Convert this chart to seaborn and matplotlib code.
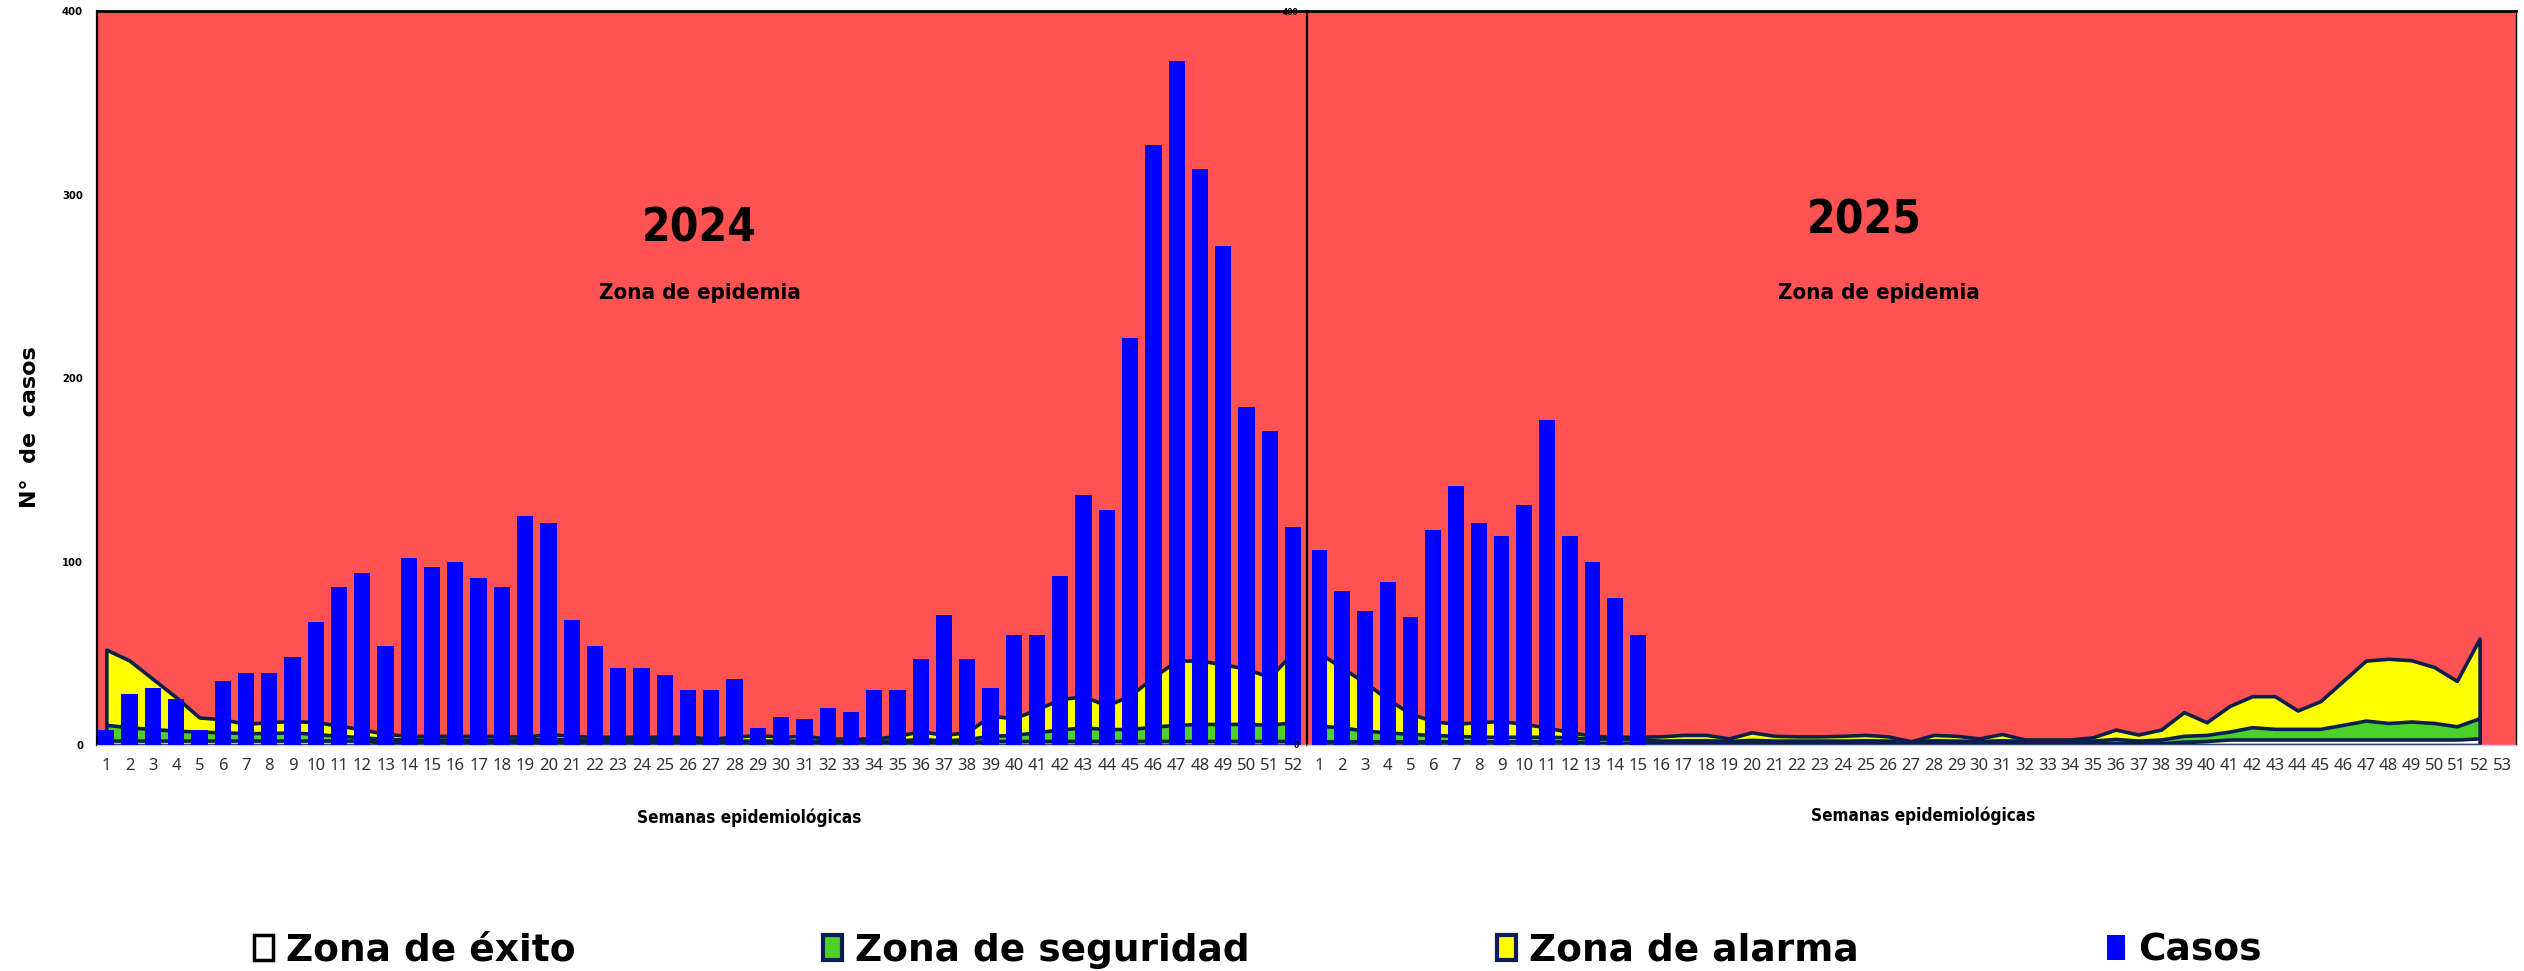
import os
import numpy as np
import pandas as pd
import seaborn as sns
import matplotlib
matplotlib.use("Agg")
import matplotlib.pyplot as plt
from matplotlib import font_manager as fm
from matplotlib.patches import Patch

# semanas epidemiologicas
semanas = list(range(1, 53))
semanas_2025_casos = list(range(1, 16))

casos_2024 = [8, 28, 31, 25, 8, 35, 39, 39, 48, 67, 86, 94, 54, 102, 97, 100, 91, 86, 125, 121,
              68, 54, 42, 42, 38, 30, 30, 36, 9, 15, 14, 20, 18, 30, 30, 47, 71, 47, 31, 60,
              60, 92, 136, 128, 222, 327, 373, 314, 272, 184, 171, 119]
casos_2025 = [106, 84, 73, 89, 70, 117, 141, 121, 114, 131, 177, 114, 100, 80, 60]

# limites superiores de cada zona (canal endemico)
alarma_2024 = [52, 46, 36, 26, 15, 14, 11.5, 12.5, 13, 12.5, 10.5, 8.5, 6, 5, 5, 5, 5, 5, 4.5, 6,
               5, 4.5, 4.5, 4.5, 4.5, 4.5, 3.5, 4.5, 5.5, 4.5, 5, 3.5, 3.5, 3.5, 5, 7.5, 5.5, 7, 16, 14.5,
               19.5, 25, 26.5, 21.5, 27, 37, 46, 46, 44, 41.5, 37, 50.5]
seguridad_2024 = [11, 9.6, 8.7, 7.8, 7.3, 6.9, 6.5, 6.5, 6.9, 6, 5, 4.2, 3.3, 3, 3, 3, 3, 3, 3, 3.5,
                  3, 3, 3, 3, 3, 3, 2.4, 2.4, 2.4, 2.4, 2.4, 2.4, 2.4, 2.4, 2.4, 3.3, 2.5, 3.3, 5, 5.5,
                  7, 8.5, 9.6, 8.7, 8.7, 10, 11, 11.5, 11.5, 11.5, 11, 12.5]
exito_2024 = [2.4] * 12 + [1.5] * 26 + [2.2] * 14

alarma_2025 = [50, 42, 34, 25, 17, 13, 11.5, 12.5, 13, 11.5, 9.5, 7, 5, 4.5, 4.5, 4.7, 5.5, 5.5, 3.6, 6.9,
               5, 4.7, 4.7, 5, 5.5, 4.7, 2, 5.5, 5, 3.6, 6, 3, 3, 3, 4.2, 8.4, 5.7, 8.4, 17.9, 12.4,
               21.2, 26.6, 26.6, 18.8, 23.9, 34.9, 46, 47, 46.2, 42.5, 34.9, 58]
seguridad_2025 = [10.5, 9.6, 7.8, 6.9, 6, 5.5, 5, 4.5, 4.5, 4.5, 4.5, 4.2, 3.3, 3.3, 3, 2.4, 2.6, 2.6, 2.2, 2.8,
                  2.4, 2.4, 2.4, 2.4, 2.6, 2.4, 2, 2.6, 2.4, 2.2, 2.6, 2.2, 2.2, 2.2, 2.4, 3.3, 2.4, 3, 5, 5.5,
                  7.3, 9.7, 8.8, 8.8, 8.8, 11, 13.3, 12, 12.8, 12, 10.2, 14.6]
exito_2025 = [2] * 12 + [1] * 26 + [1.8, 2.2] + [3] * 11 + [3.6]

ticks_2024 = list(range(1, 53))
ticks_2025 = list(range(1, 54))

ROJO = "#ff5252"
AZUL = "#0000ff"
AMARILLO = "#ffff00"
VERDE = "#4cd12a"
NAVY = "#0b1f4f"
NARROW = ["Liberation Sans Narrow", "DejaVu Sans Condensed", "Noto Sans Condensed", "Noto Sans", "DejaVu Sans"]


def fuente_estrecha(tamano, nombres):
    # busca un archivo de fuente condensada/negrita; si no hay, usa la normal
    archivos = {os.path.basename(f.fname).lower(): f.fname for f in fm.fontManager.ttflist}
    for n in nombres:
        if n in archivos:
            return fm.FontProperties(fname=archivos[n], size=tamano)
    return fm.FontProperties(family="DejaVu Sans", weight="bold", size=tamano)


NEGRITA = ["liberationsansnarrow-bold.ttf", "dejavusanscondensed-bold.ttf",
           "notosans-condensedbold.ttf", "notosans-semicondensedbold.ttf"]

sns.set_style("white")
plt.rcParams["text.color"] = "black"
plt.rcParams["xtick.color"] = "black"
plt.rcParams["ytick.color"] = "black"

fig = plt.figure(figsize=(25.24, 9.71), dpi=100)
L, MID, R = 97 / 2524, 1307 / 2524, 2516 / 2524
B, T = 1 - 745 / 971, 1 - 11 / 971
ax1 = fig.add_axes([L, B, MID - L, T - B])
ax2 = fig.add_axes([MID, B, R - MID, T - B])


def panel(ax, alarma, seguridad, exito, sem_casos, casos, ticks, xlim):
    ax.set_facecolor(ROJO)
    x = np.array(semanas)
    ax.fill_between(x, 0, alarma, facecolor=AMARILLO, edgecolor=NAVY, linewidth=2.6, zorder=2)
    ax.fill_between(x, 0, seguridad, facecolor=VERDE, edgecolor=NAVY, linewidth=2.6, zorder=2)
    ax.fill_between(x, 0, exito, facecolor="white", edgecolor=NAVY, linewidth=2.6, zorder=2)
    df = pd.DataFrame({"semana": sem_casos, "casos": casos})
    sns.barplot(data=df, x="semana", y="casos", native_scale=True, color=AZUL, saturation=1,
                width=0.7, errorbar=None, linewidth=0, zorder=3, ax=ax)
    ax.set_xlim(*xlim)
    ax.set_ylim(0, 400)
    ax.set_xticks(ticks)
    ax.set_xticklabels([str(t) for t in ticks], fontsize=12, color="#333333",
                       family=NARROW, stretch="condensed")
    ax.tick_params(axis="x", length=0, pad=9)
    ax.set_xlabel("")
    ax.set_ylabel("")
    ax.grid(False)
    for s in ["top", "left", "right"]:
        ax.spines[s].set_color("black")
    ax.spines["top"].set_linewidth(2)
    ax.spines["left"].set_linewidth(1.6)
    ax.spines["bottom"].set_color("#c8d0e0")
    ax.spines["bottom"].set_linewidth(1)


panel(ax1, alarma_2024, seguridad_2024, exito_2024, semanas, casos_2024, ticks_2024, (0.6, 52.6))
panel(ax2, alarma_2025, seguridad_2025, exito_2025, semanas_2025_casos, casos_2025, ticks_2025, (0.45, 53.6))

ax1.spines["right"].set_visible(False)
ax2.spines["right"].set_linewidth(1)

ax1.set_yticks([0, 100, 200, 300, 400])
ax1.set_yticklabels(["0", "100", "200", "300", "400"], fontproperties=fuente_estrecha(8, NEGRITA))
ax1.tick_params(axis="y", length=0, pad=10)
ax2.set_yticks([0, 400])
ax2.set_yticklabels(["0", "400"], fontproperties=fuente_estrecha(6, NEGRITA))
ax2.tick_params(axis="y", length=0, pad=6)

fig.text(30 / 2524, 1 - 427 / 971, "N°  de  casos", rotation=90, ha="center", va="center",
         fontsize=16, fontweight="bold", family="DejaVu Sans")

f_anio = fuente_estrecha(33, NEGRITA)
f_zona = fuente_estrecha(16, NEGRITA)
f_eje = fuente_estrecha(12.3, NEGRITA)
centro = dict(ha="center", va="center", zorder=5)
ax1.text(0.498, 0.703, "2024", transform=ax1.transAxes, fontproperties=f_anio, **centro)
ax1.text(0.498, 0.616, "Zona de epidemia", transform=ax1.transAxes, fontproperties=f_zona, **centro)
ax2.text(0.461, 0.714, "2025", transform=ax2.transAxes, fontproperties=f_anio, **centro)
ax2.text(0.473, 0.616, "Zona de epidemia", transform=ax2.transAxes, fontproperties=f_zona, **centro)

ax1.text(0.539, -0.0995, "Semanas epidemiológicas", transform=ax1.transAxes, fontproperties=f_eje, **centro)
ax2.text(0.51, -0.097, "Semanas epidemiológicas", transform=ax2.transAxes, fontproperties=f_eje, **centro)

handles = [
    Patch(facecolor="white", edgecolor="black", linewidth=2.5, label="Zona de éxito"),
    Patch(facecolor=VERDE, edgecolor=NAVY, linewidth=3, label="Zona de seguridad"),
    Patch(facecolor=AMARILLO, edgecolor=NAVY, linewidth=3, label="Zona de alarma"),
    Patch(facecolor=AZUL, edgecolor=AZUL, linewidth=0, label="Casos"),
]
fig.legend(handles=handles, loc="center", bbox_to_anchor=(0.4985, 0.021), ncol=4, frameon=False,
           prop={"family": "DejaVu Sans", "weight": "bold", "size": 27},
           handlelength=0.5, handleheight=0.65, handletextpad=0.35, columnspacing=6.6)

fig.savefig("out.png", dpi=100)
